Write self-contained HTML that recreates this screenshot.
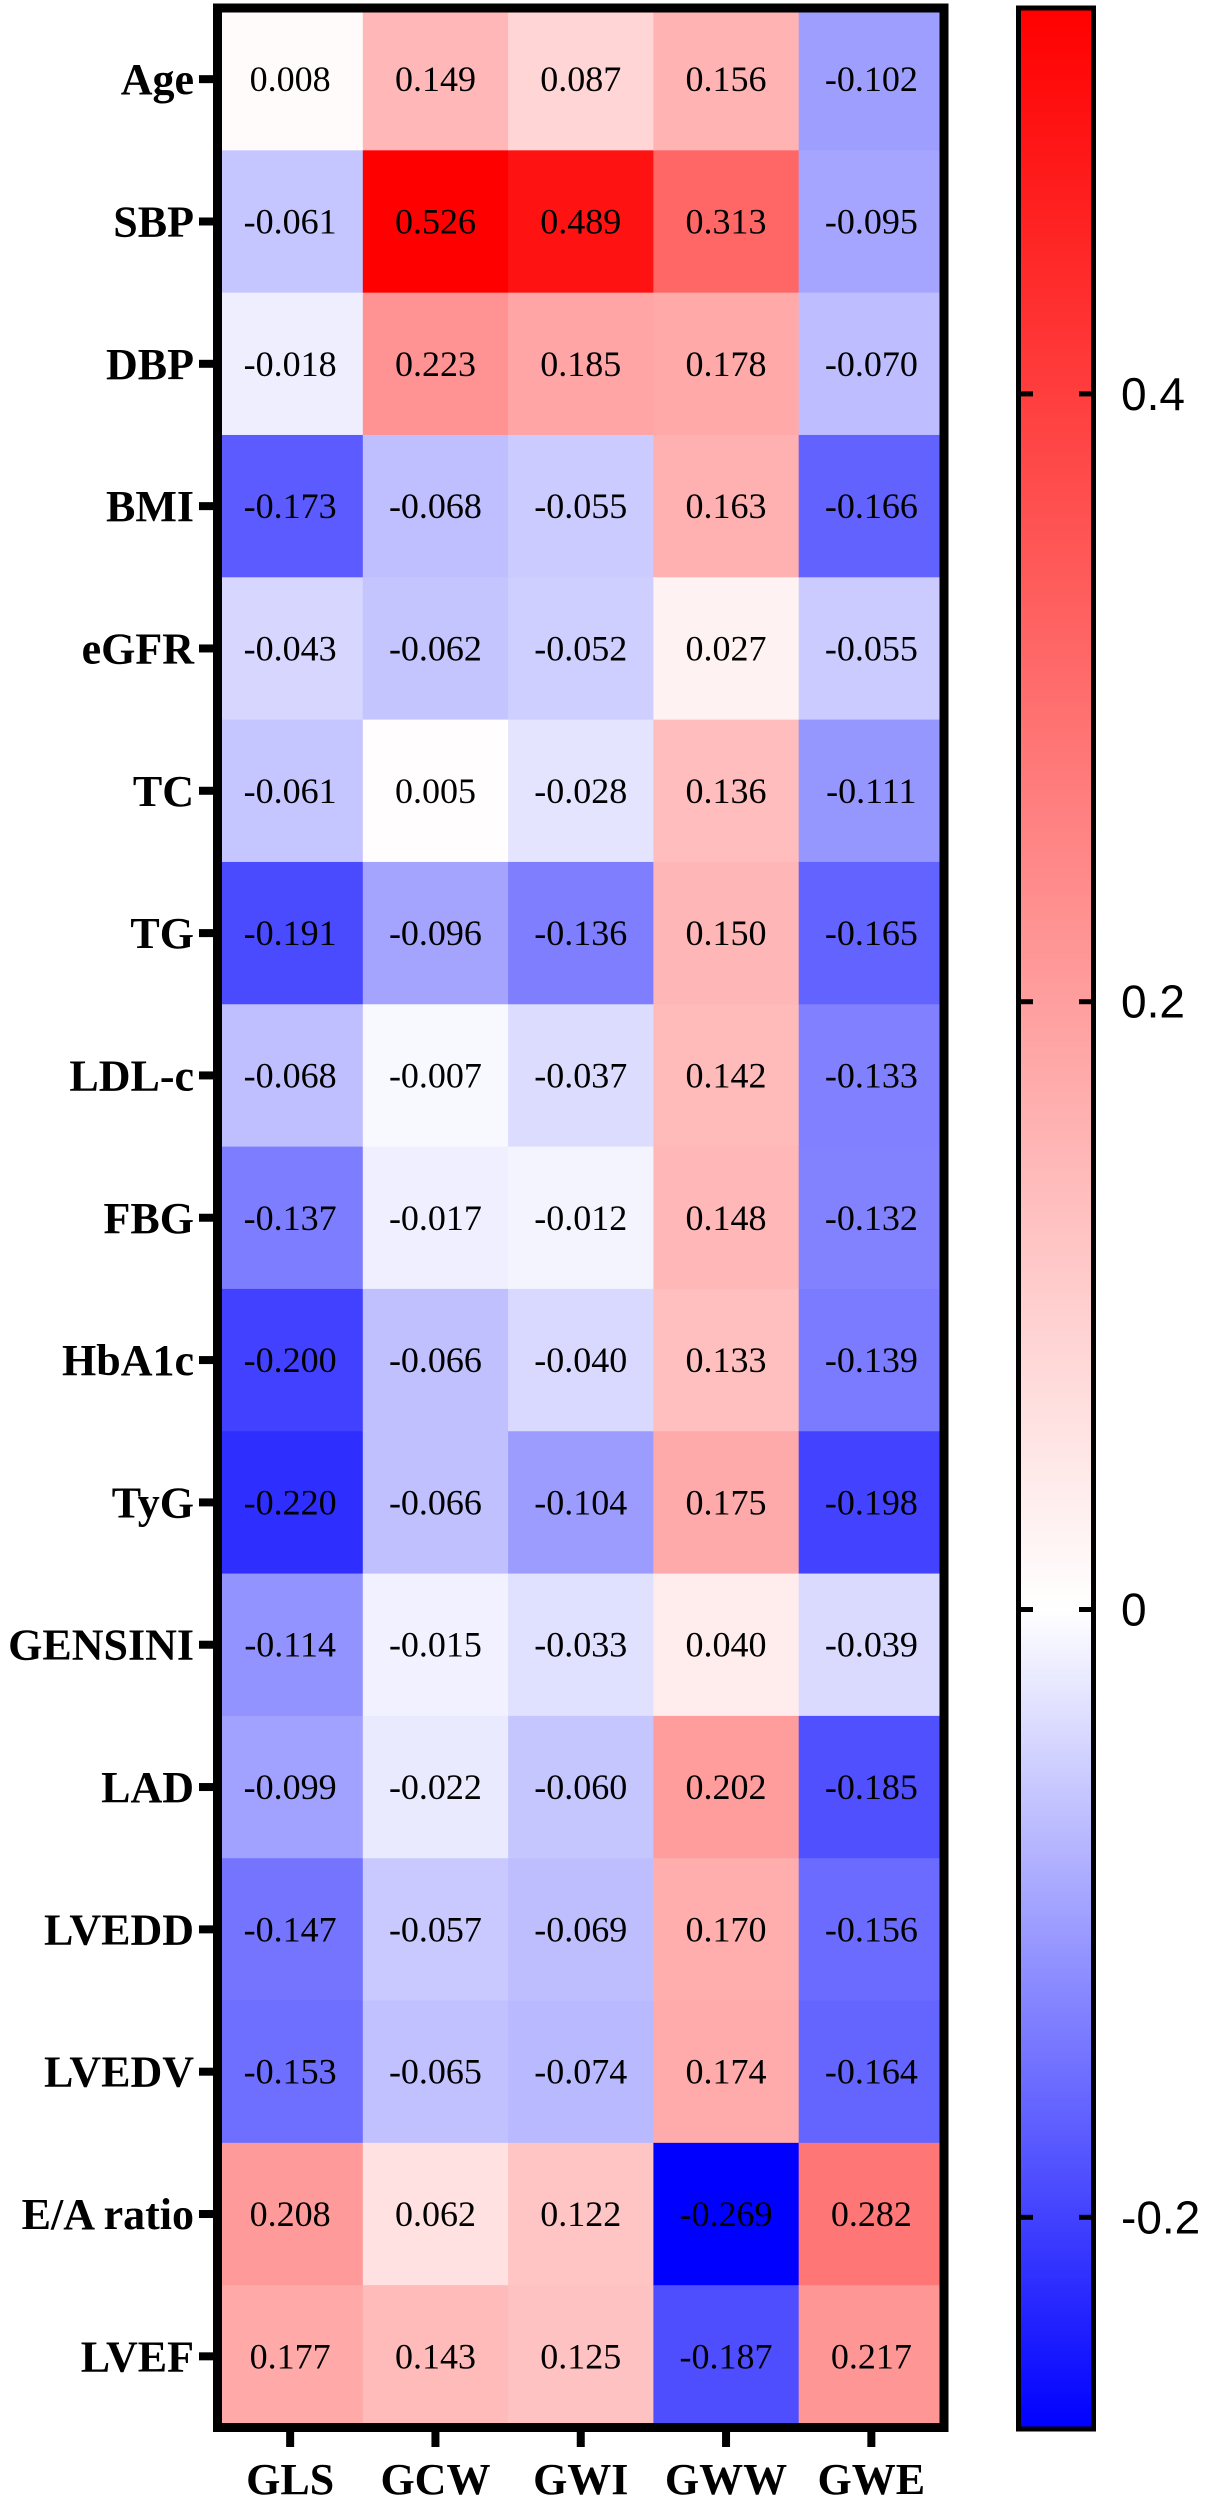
<!DOCTYPE html>
<html><head><meta charset="utf-8"><style>
html,body{margin:0;padding:0;background:#fff;}
svg{display:block;}
</style></head><body>
<svg id="chart" width="1208" height="2500" viewBox="0 0 1208 2500" xmlns="http://www.w3.org/2000/svg">
<defs>
<linearGradient id="cbgrad" x1="0" y1="0" x2="0" y2="1">
<stop id="s1" offset="0" stop-color="#ff0000"/>
<stop id="s2" offset="0.5" stop-color="#ffffff"/>
<stop id="s3" offset="1" stop-color="#0000ff"/>
</linearGradient>
</defs>
<g id="cells"></g>
<g id="labels"></g>
<rect x="217.5" y="8" width="726.5" height="2419.5" fill="none" stroke="#000" stroke-width="9"/>
<g id="rowticks"></g>
<g id="colticks"></g>
<rect id="cbar" x="1018.5" y="8" width="75" height="2421" fill="url(#cbgrad)" stroke="#000" stroke-width="5"/>
<g id="cbticks"></g>
</svg>
<script>
const rows = ["Age","SBP","DBP","BMI","eGFR","TC","TG","LDL-c","FBG","HbA1c","TyG","GENSINI","LAD","LVEDD","LVEDV","E/A ratio","LVEF"];
const cols = ["GLS","GCW","GWI","GWW","GWE"];
const GLS = [0.008,-0.061,-0.018,-0.173,-0.043,-0.061,-0.191,-0.068,-0.137,-0.200,-0.220,-0.114,-0.099,-0.147,-0.153,0.208,0.177];
const GCW = [0.149,0.526,0.223,-0.068,-0.062,0.005,-0.096,-0.007,-0.017,-0.066,-0.066,-0.015,-0.022,-0.057,-0.065,0.062,0.143];
const GWI = [0.087,0.489,0.185,-0.055,-0.052,-0.028,-0.136,-0.037,-0.012,-0.040,-0.104,-0.033,-0.060,-0.069,-0.074,0.122,0.125];
const GWW = [0.156,0.313,0.178,0.163,0.027,0.136,0.150,0.142,0.148,0.133,0.175,0.040,0.202,0.170,0.174,-0.269,-0.187];
const GWE = [-0.102,-0.095,-0.070,-0.166,-0.055,-0.111,-0.165,-0.133,-0.132,-0.139,-0.198,-0.039,-0.185,-0.156,-0.164,0.282,0.217];
const series = [GLS,GCW,GWI,GWW,GWE];
const cbTicks = [0.4,0.2,0,-0.2];
const cbTickLabels = ["0.4","0.2","0","-0.2"];
const vmax = 0.526, vmin = -0.269;

const NS="http://www.w3.org/2000/svg";
const gx0=217.5, gx1=944, gy0=8, gy1=2427.5;
const cw=(gx1-gx0)/cols.length, rh=(gy1-gy0)/rows.length;
function xCol(i){return gx0+i*cw;}
function yRow(j){return gy0+j*rh;}
const cbTop=11, cbBot=2427;
function yCb(v){return cbTop+(vmax-v)/(vmax-vmin)*(cbBot-cbTop);}
function color(v){
  if(v>=0){const t=Math.min(v/vmax,1);const c=Math.round(255*(1-t));return `rgb(255,${c},${c})`;}
  const t=Math.min(v/vmin,1);const c=Math.round(255*(1-t));return `rgb(${c},${c},255)`;
}
function mk(tag,attrs,parent){const e=document.createElementNS(NS,tag);for(const k in attrs)e.setAttribute(k,attrs[k]);parent.appendChild(e);return e;}
const gC=document.getElementById('cells'), gL=document.getElementById('labels'), gR=document.getElementById('rowticks'), gK=document.getElementById('colticks'), gB=document.getElementById('cbticks');
// gradient stop at zero
document.getElementById('s2').setAttribute('offset',((yCb(0)-cbTop)/(cbBot-cbTop)).toFixed(4));
series.forEach((arr,i)=>{
  arr.forEach((v,j)=>{
    const r=mk('rect',{x:xCol(i),y:yRow(j),width:cw+0.5,height:rh+0.5,fill:color(v)},gC);
    
    
    const t=mk('text',{x:xCol(i)+cw/2,y:yRow(j)+rh/2+12,'text-anchor':'middle','font-family':'"Liberation Serif",serif','font-size':36,fill:'#000'},gL);
    t.textContent=v.toFixed(3);
    
    
  });
});
rows.forEach((name,j)=>{
  const cy=yRow(j)+rh/2;
  mk('rect',{x:199,y:cy-4,width:16,height:8,fill:'#000'},gR);
  const t=mk('text',{x:194,y:cy+15,'text-anchor':'end','font-family':'"Liberation Serif",serif','font-weight':'bold','font-size':44,fill:'#000'},gR);
  t.textContent=name;
  
  
});
cols.forEach((name,i)=>{
  const cx=xCol(i)+cw/2;
  mk('rect',{x:cx-4,y:2430,width:8,height:17,fill:'#000'},gK);
  const t=mk('text',{x:cx,y:2494,'text-anchor':'middle','font-family':'"Liberation Serif",serif','font-weight':'bold','font-size':44,fill:'#000'},gK);
  t.textContent=name;
  
  
});
cbTicks.forEach((v,k)=>{
  const y=yCb(v);
  mk('rect',{x:1021,y:y-2.5,width:12,height:5,fill:'#000'},gB);
  mk('rect',{x:1079,y:y-2.5,width:12,height:5,fill:'#000'},gB);
  const t=mk('text',{x:1121,y:y+16,'font-family':'"Liberation Sans",sans-serif','font-size':46,fill:'#000'},gB);
  t.textContent=cbTickLabels[k];
  
  
});
</script>
</body></html>
